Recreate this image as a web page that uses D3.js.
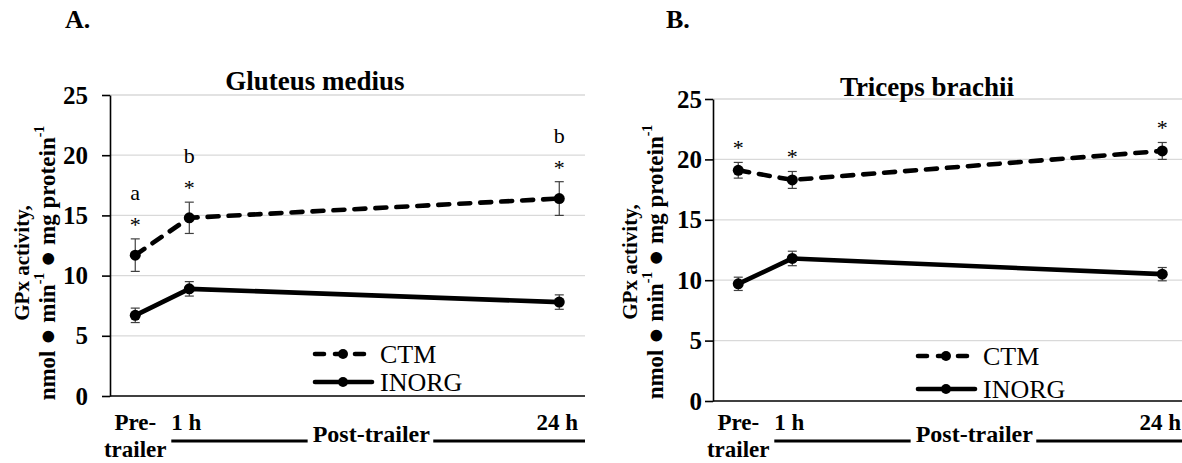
<!DOCTYPE html>
<html>
<head>
<meta charset="utf-8">
<script src="https://cdn.jsdelivr.net/npm/d3@7"></script>
<style>
  body { margin: 0; background: #fff; }
  svg { display: block; }
</style>
</head>
<body>
<svg id="chart" width="1182" height="463"></svg>
<script>
// Sampling times, placed on an hours-after-transport scale
const timepoints = ["Pre-trailer", "1 h", "24 h"];
const hoursFromTransport = [-2.36, 1, 24];
const xTickLabels = [["Pre-", "trailer"], ["1 h"], ["24 h"]];
const yTicks = [0, 5, 10, 15, 20, 25];
const seriesNames = ["CTM", "INORG"];

// Gluteus medius GPx activity (mean and SE)
const gluteusCTM = [11.7, 14.8, 16.4];
const gluteusCTMse = [1.35, 1.3, 1.4];
const gluteusINORG = [6.7, 8.9, 7.8];
const gluteusINORGse = [0.6, 0.6, 0.6];
const gluteusStars = ["*", "*", "*"];
const gluteusLetters = ["a", "b", "b"];

// Triceps brachii GPx activity (mean and SE)
const tricepsCTM = [19.1, 18.3, 20.7];
const tricepsCTMse = [0.65, 0.7, 0.7];
const tricepsINORG = [9.7, 11.8, 10.5];
const tricepsINORGse = [0.55, 0.6, 0.55];
const tricepsStars = ["*", "*", "*"];
const tricepsLetters = ["", "", ""];

const FONT = "'Liberation Serif', 'Times New Roman', serif";
const NB = "\u00A0";
const svg = d3.select("#chart");

const panels = [
  {
    tag: "A.", title: "Gluteus medius",
    ctm: gluteusCTM, ctmSe: gluteusCTMse, inorg: gluteusINORG, inorgSe: gluteusINORGse,
    stars: gluteusStars, letters: gluteusLetters,
    left: 110, right: 585, top: 95, bottom: 396,
    tagX: 65, titleX: 315, titleY: 90, tickPad: 14,
    yTitleX1: 22, yTitleX2: 47, yTitleY: 263,
    legendX: 312, legendY: [354, 382],
    row1Y: 430, row2Y: 457, postY: 442
  },
  {
    tag: "B.", title: "Triceps brachii",
    ctm: tricepsCTM, ctmSe: tricepsCTMse, inorg: tricepsINORG, inorgSe: tricepsINORGse,
    stars: tricepsStars, letters: tricepsLetters,
    left: 713, right: 1188, top: 99, bottom: 401,
    tagX: 666, titleX: 927, titleY: 96, tickPad: 3,
    yTitleX1: 630, yTitleX2: 655, yTitleY: 262,
    legendX: 915, legendY: [356, 389],
    row1Y: 430, row2Y: 457, postY: 442
  }
];

function drawPanel(p) {
  const g = svg.append("g").attr("font-family", FONT);
  const x = d3.scaleLinear().domain([-3.93, 25.6]).range([p.left, p.right]);
  const y = d3.scaleLinear().domain([0, 25]).range([p.bottom, p.top]);

  // horizontal gridlines
  g.append("g").selectAll("line").data(yTicks.filter(v => v > 0)).join("line")
    .attr("x1", p.left).attr("x2", p.right)
    .attr("y1", d => y(d)).attr("y2", d => y(d))
    .attr("stroke", "#d9d9d9").attr("stroke-width", 1.3);

  // y axis
  const yAxis = d3.axisLeft(y).tickValues(yTicks).tickSize(8).tickSizeOuter(0).tickPadding(p.tickPad);
  const yg = g.append("g").attr("transform", `translate(${p.left},0)`).call(yAxis);
  yg.attr("font-family", FONT).attr("font-size", 25).attr("font-weight", "bold");
  yg.select(".domain").attr("stroke", "#000").attr("stroke-width", 1.6);
  yg.selectAll(".tick line").attr("stroke", "#000").attr("stroke-width", 1.6);
  yg.selectAll(".tick text").attr("fill", "#000");

  // x axis baseline
  g.append("line").attr("x1", p.left).attr("x2", p.right)
    .attr("y1", y(0)).attr("y2", y(0))
    .attr("stroke", "#000").attr("stroke-width", 1.6);

  const series = [
    { name: seriesNames[0], vals: p.ctm, se: p.ctmSe, dash: "11,10" },
    { name: seriesNames[1], vals: p.inorg, se: p.inorgSe, dash: null }
  ];

  const line = d3.line().x((d, i) => x(hoursFromTransport[i])).y(d => y(d));

  series.forEach(s => {
    const sg = g.append("g");
    // error bars
    const eb = sg.selectAll("g.eb").data(s.vals).join("g").attr("class", "eb");
    eb.append("line")
      .attr("x1", (d, i) => x(hoursFromTransport[i])).attr("x2", (d, i) => x(hoursFromTransport[i]))
      .attr("y1", (d, i) => y(d - s.se[i])).attr("y2", (d, i) => y(d + s.se[i]));
    eb.append("line")
      .attr("x1", (d, i) => x(hoursFromTransport[i]) - 4.5).attr("x2", (d, i) => x(hoursFromTransport[i]) + 4.5)
      .attr("y1", (d, i) => y(d + s.se[i])).attr("y2", (d, i) => y(d + s.se[i]));
    eb.append("line")
      .attr("x1", (d, i) => x(hoursFromTransport[i]) - 4.5).attr("x2", (d, i) => x(hoursFromTransport[i]) + 4.5)
      .attr("y1", (d, i) => y(d - s.se[i])).attr("y2", (d, i) => y(d - s.se[i]));
    eb.selectAll("line").attr("stroke", "#404040").attr("stroke-width", 1.2);

    sg.append("path").datum(s.vals).attr("d", line)
      .attr("fill", "none").attr("stroke", "#000").attr("stroke-width", 4.6)
      .attr("stroke-linecap", s.dash ? "round" : "butt")
      .attr("stroke-linejoin", "round")
      .attr("stroke-dasharray", s.dash);

    sg.selectAll("circle").data(s.vals).join("circle")
      .attr("cx", (d, i) => x(hoursFromTransport[i])).attr("cy", d => y(d))
      .attr("r", 5.5).attr("fill", "#000");
  });

  // significance marks above the CTM error bars
  const topOf = i => y(p.ctm[i] + p.ctmSe[i]);
  g.append("g").selectAll("text").data(p.stars).join("text")
    .attr("x", (d, i) => x(hoursFromTransport[i]))
    .attr("y", (d, i) => topOf(i) - 17 + 10)
    .attr("text-anchor", "middle").attr("font-size", 22).attr("fill", "#000")
    .text(d => d);
  g.append("g").selectAll("text").data(p.letters).join("text")
    .attr("x", (d, i) => x(hoursFromTransport[i]))
    .attr("y", (d, i) => topOf(i) - 46 + 7)
    .attr("text-anchor", "middle").attr("font-size", 22).attr("fill", "#000")
    .text(d => d);

  // panel tag and title
  g.append("text").attr("x", p.tagX).attr("y", 28)
    .attr("font-size", 26).attr("font-weight", "bold").text(p.tag);
  g.append("text").attr("x", p.titleX).attr("y", p.titleY)
    .attr("text-anchor", "middle").attr("font-size", 27).attr("font-weight", "bold").text(p.title);

  // y-axis title, two lines
  g.append("text")
    .attr("transform", `translate(${p.yTitleX1},${p.yTitleY}) rotate(-90)`)
    .attr("text-anchor", "middle").attr("dominant-baseline", "central")
    .attr("font-size", 21).attr("font-weight", "bold").text("GPx activity,");
  const yt2 = g.append("text")
    .attr("transform", `translate(${p.yTitleX2},${p.yTitleY}) rotate(-90)`)
    .attr("text-anchor", "middle").attr("dominant-baseline", "central")
    .attr("font-size", 23).attr("font-weight", "bold");
  yt2.append("tspan").text(`nmol${NB}`);
  yt2.append("tspan").attr("font-size", 27).text("●");
  yt2.append("tspan").text(`${NB}min`);
  yt2.append("tspan").attr("font-size", 14).attr("dy", -8).text("-1");
  yt2.append("tspan").attr("dy", 8).text(NB);
  yt2.append("tspan").attr("font-size", 27).text("●");
  yt2.append("tspan").text(`${NB}mg protein`);
  yt2.append("tspan").attr("font-size", 14).attr("dy", -8).text("-1");

  // x tick labels
  const xl = g.append("g").attr("font-size", 23).attr("font-weight", "bold").attr("text-anchor", "middle");
  xTickLabels.forEach((lines, i) => {
    const shift = i === 0 ? 0 : (i === 1 ? -3 : -2);
    lines.forEach((t, j) => {
      xl.append("text").attr("x", x(hoursFromTransport[i]) + shift)
        .attr("y", j === 0 ? p.row1Y : p.row2Y).text(t);
    });
  });

  // "Post-trailer" bracket between 1 h and 24 h
  const midX = (x(hoursFromTransport[1]) + x(hoursFromTransport[2])) / 2 - 3;
  const post = g.append("text").attr("x", midX).attr("y", p.postY)
    .attr("text-anchor", "middle").attr("font-size", 24).attr("font-weight", "bold").text("Post-trailer");
  const bb = post.node().getBBox();
  const lineY = p.postY - 1;
  g.append("line").attr("x1", x(hoursFromTransport[1]) - 18).attr("x2", bb.x - 5)
    .attr("y1", lineY).attr("y2", lineY).attr("stroke", "#000").attr("stroke-width", 3);
  g.append("line").attr("x1", bb.x + bb.width + 3).attr("x2", p.right)
    .attr("y1", lineY).attr("y2", lineY).attr("stroke", "#000").attr("stroke-width", 3);

  // legend
  series.forEach((s, k) => {
    const ly = p.legendY[k];
    const lg = g.append("g");
    lg.append("line").attr("x1", p.legendX + 3).attr("x2", p.legendX + 60)
      .attr("y1", ly).attr("y2", ly).attr("stroke", "#000").attr("stroke-width", 4.6)
      .attr("stroke-linecap", "round")
      .attr("stroke-dasharray", s.dash ? "9,11" : null);
    lg.append("circle").attr("cx", p.legendX + 31).attr("cy", ly).attr("r", 5).attr("fill", "#000");
    lg.append("text").attr("x", p.legendX + 68).attr("y", ly).attr("dy", "0.35em")
      .attr("font-size", 26).attr("fill", "#000").text(s.name);
  });
}

panels.forEach(drawPanel);
</script>
</body>
</html>
